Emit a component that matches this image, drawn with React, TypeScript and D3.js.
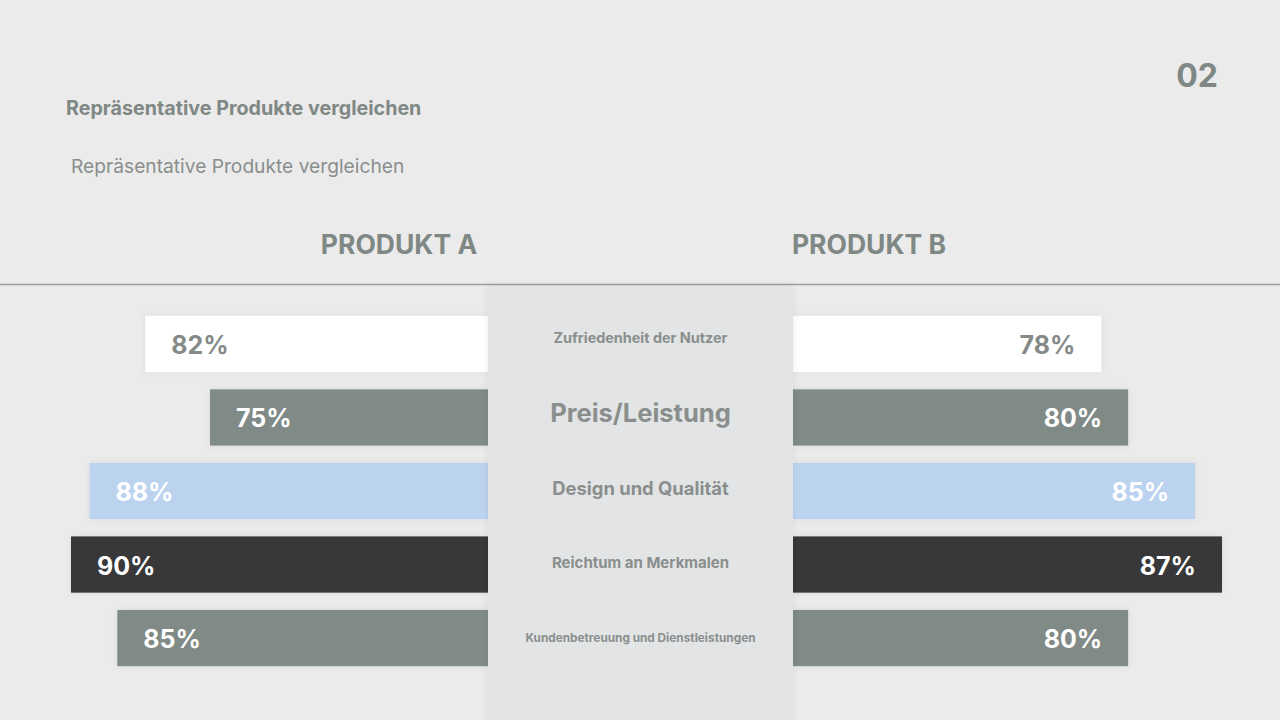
import * as d3 from "d3";

const categories = [
  "Zufriedenheit der Nutzer",
  "Preis/Leistung",
  "Design und Qualität",
  "Reichtum an Merkmalen",
  "Kundenbetreuung und Dienstleistungen",
];
const productA = [82, 75, 88, 90, 85];
const productB = [78, 80, 85, 87, 80];
const seriesNames = ["PRODUKT A", "PRODUKT B"];

// look of each row (not data)
const barColors = ["#ffffff", "#808a86", "#bcd3f0", "#38383b", "#808a86"];
const labelColors = ["#858a88", "#ffffff", "#ffffff", "#ffffff", "#ffffff"];
const catFontSizes = [14.4, 25.5, 18.4, 15, 11.8];

const W = 1280;
const H = 720;
const panelLeft = 488;
const panelRight = 793;
const font = "Inter, 'Noto Sans', sans-serif";
const gray = "#7f8884";

export default function App() {
  const y = d3
    .scaleBand<number>()
    .domain(d3.range(categories.length))
    .range([307, 675])
    .paddingInner(0.235)
    .paddingOuter(0.12);

  // each side was drawn on its own length scale
  const xA = d3.scaleLinear().domain([45, 90]).range([0, 417]);
  const xB = d3.scaleLinear().domain([55, 87]).range([0, 429]);

  return (
    <svg
      width={W}
      height={H}
      style={{ position: "fixed", left: 0, top: 0, background: "#ebebeb" }}
      fontFamily={font}
    >
      <defs>
        <filter id="soft" x="-10%" y="-10%" width="120%" height="120%">
          <feDropShadow dx="0" dy="0" stdDeviation="3" floodColor="#000" floodOpacity="0.08" />
        </filter>
      </defs>
      <rect width={W} height={H} fill="#ebebeb" />

      <text x={66} y={115} fontSize={19.7} fontWeight={700} fill={gray}>
        Repräsentative Produkte vergleichen
      </text>
      <text x={71} y={173} fontSize={19.2} fontWeight={400} fill="#8a8e8d">
        Repräsentative Produkte vergleichen
      </text>
      <text x={1218} y={87} fontSize={32} fontWeight={700} fill={gray} textAnchor="end">
        02
      </text>

      <text x={399} y={254} fontSize={26.5} fontWeight={700} fill={gray} textAnchor="middle">
        {seriesNames[0]}
      </text>
      <text x={869} y={254} fontSize={26.5} fontWeight={700} fill={gray} textAnchor="middle">
        {seriesNames[1]}
      </text>

      <line x1={0} x2={W} y1={284.5} y2={284.5} stroke="#9c9e9d" strokeWidth={1.3} />

      {productA.map((v, i) => {
        const w = xA(v);
        const yy = y(i)!;
        const bh = y.bandwidth();
        return (
          <g key={"a" + i}>
            <rect x={panelLeft - w} y={yy} width={w} height={bh} fill={barColors[i]} filter="url(#soft)" />
            <text
              x={panelLeft - w + 26}
              y={yy + bh / 2 + 1}
              dy="0.36em"
              fontSize={25}
              fontWeight={700}
              fill={labelColors[i]}
            >
              {v}%
            </text>
          </g>
        );
      })}

      {productB.map((v, i) => {
        const w = xB(v);
        const yy = y(i)!;
        const bh = y.bandwidth();
        return (
          <g key={"b" + i}>
            <rect x={panelRight} y={yy} width={w} height={bh} fill={barColors[i]} filter="url(#soft)" />
            <text
              x={panelRight + w - 26}
              y={yy + bh / 2 + 1}
              dy="0.36em"
              fontSize={25}
              fontWeight={700}
              fill={labelColors[i]}
              textAnchor="end"
            >
              {v}%
            </text>
          </g>
        );
      })}

      <rect
        x={panelLeft}
        y={286}
        width={panelRight - panelLeft}
        height={H - 286}
        fill="#e2e4e5"
        filter="url(#soft)"
      />

      {categories.map((c, i) => (
        <text
          key={c}
          x={(panelLeft + panelRight) / 2}
          y={y(i)! + y.bandwidth() / 2 - 6 + i * 1.5}
          dy="0.36em"
          fontSize={catFontSizes[i]}
          fontWeight={700}
          fill="#8a8f8d"
          textAnchor="middle"
        >
          {c}
        </text>
      ))}
    </svg>
  );
}
